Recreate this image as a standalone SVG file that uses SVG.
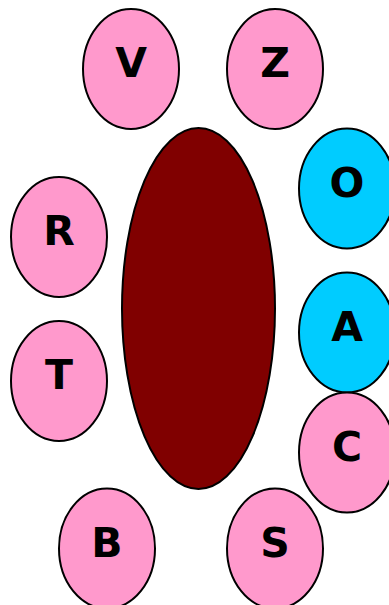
<svg xmlns="http://www.w3.org/2000/svg" width="389" height="605" viewBox="0 0 389 605">
<style>
.n ellipse{stroke:#000;stroke-width:2}
.p{fill:#ff99cc}
.c{fill:#00ccff}
.m{fill:#800000}
text{font-family:"DejaVu Sans",sans-serif;font-weight:bold;font-size:41px;text-anchor:middle;fill:#000}
</style>
<rect width="389" height="605" fill="#fff"/>
<g id="connectors"/>
<g id="center" class="n"><ellipse class="m" cx="198.5" cy="308.5" rx="76.5" ry="180.5"/></g>
<g id="V" class="n"><ellipse class="p" cx="131" cy="69" rx="48" ry="60"/><text x="131" y="77">V</text></g>
<g id="Z" class="n"><ellipse class="p" cx="275" cy="69" rx="48" ry="60"/><text x="275" y="77">Z</text></g>
<g id="O" class="n"><ellipse class="c" cx="347" cy="188.5" rx="48" ry="60"/><text x="347" y="197">O</text></g>
<g id="R" class="n"><ellipse class="p" cx="59" cy="237" rx="48" ry="60"/><text x="59" y="245">R</text></g>
<g id="A" class="n"><ellipse class="c" cx="347" cy="332.5" rx="48" ry="60"/><text x="347" y="341">A</text></g>
<g id="T" class="n"><ellipse class="p" cx="59" cy="381" rx="48" ry="60"/><text x="59" y="389">T</text></g>
<g id="C" class="n"><ellipse class="p" cx="347" cy="452.5" rx="48" ry="60"/><text x="347" y="461">C</text></g>
<g id="B" class="n"><ellipse class="p" cx="107" cy="548.5" rx="48" ry="60"/><text x="107" y="557">B</text></g>
<g id="S" class="n"><ellipse class="p" cx="275" cy="548.5" rx="48" ry="60"/><text x="275" y="557">S</text></g>
</svg>
